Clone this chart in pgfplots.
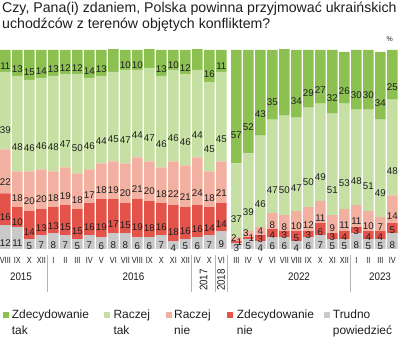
\documentclass[border=0pt]{standalone}
\usepackage{fontspec}
\setmainfont{Liberation Sans}
\usepackage{graphicx}
\usepackage{pgfplots}
\usepackage{pgfplotstable}
\pgfplotsset{compat=1.18}

\definecolor{czt}{HTML}{8CC152}
\definecolor{crt}{HTML}{C6E0A4}
\definecolor{crn}{HTML}{F2B1A0}
\definecolor{czn}{HTML}{E4534A}
\definecolor{ctr}{HTML}{C9C9C9}
\definecolor{sep}{HTML}{B4B4B4}
\definecolor{txt}{HTML}{1E1E1E}

\newcommand\mo[1]{\scalebox{0.82}[1]{#1}}
\newcommand\yr[1]{\scalebox{0.9}[1]{#1}}

\pgfplotstableread{
x tr zn rn rt zt
0 12 16 22 39 11
1 11 10 18 48 13
2 5 14 20 46 15
3 7 13 20 46 14
4 8 13 18 48 13
5 7 15 19 47 12
6 5 15 18 50 12
7 7 16 17 46 14
8 6 19 18 44 13
9 8 17 19 45 12
10 8 15 20 47 10
11 6 19 21 44 10
12 6 18 20 47 10
13 7 16 18 46 13
14 4 18 22 46 10
15 5 16 21 46 12
16 6 16 24 44 11
17 7 14 18 45 16
18 9 14 21 45 11
19.25 3 1 2 37 57
20.25 5 1 3 39 52
21.25 4 3 4 46 43
22.25 6 4 8 47 35
23.25 6 3 8 50 34
24.25 4 5 10 47 34
25.25 6 3 12 50 29
26.25 7 6 11 49 27
27.25 5 3 9 51 32
28.25 5 4 11 53 26
29.25 8 3 11 48 30
30.25 5 4 10 51 30
31.25 5 4 7 49 34
32.25 8 5 14 48 25
}\dat

\pgfplotsset{
  lbl/.style={
    point meta=explicit symbolic,
    nodes near coords={\pgfplotspointmeta},
    nodes near coords align={center},
    every node near coord/.append style={anchor=center, yshift={-\pgfplotspointmeta*0.4975bp},
      font=\fontsize{9.8}{9.8}\selectfont, text=txt, inner sep=0pt},
  }
}

\begin{document}
\begin{tikzpicture}
\path[use as bounding box] (0,-88bp) rectangle (400bp,249bp);
\begin{axis}[
  at={(0,0)}, anchor=south west,
  scale only axis, width=400bp, height=199bp,
  xmin=-0.44583, xmax=32.8875, ymin=0, ymax=100,
  ybar stacked, bar width=10.7bp,
  axis line style={draw=none}, tick style={draw=none},
  ytick=\empty,
  xtick={0,1,2,3,4,5,6,7,8,9,10,11,12,13,14,15,16,17,18,19.25,20.25,21.25,22.25,23.25,24.25,25.25,26.25,27.25,28.25,29.25,30.25,31.25,32.25},
  xticklabels={\mo{VIII},\mo{IX},\mo{X},\mo{XII},\mo{I},\mo{II},\mo{III},\mo{IV},\mo{V},\mo{VI},\mo{VII},\mo{VIII},\mo{IX},\mo{X},\mo{XI},\mo{XII},\mo{IV},\mo{X},\mo{VI},\mo{III},\mo{IV},\mo{V},\mo{VI},\mo{VII},\mo{VIII},\mo{IX},\mo{X},\mo{XI},\mo{XII},\mo{I},\mo{II},\mo{III},\mo{IV}},
  xticklabel style={font=\fontsize{9}{9}\selectfont, text=txt, anchor=base, yshift=-14bp, inner sep=0pt},
]
\addplot[fill=ctr, draw=none, lbl, every node near coord/.append style={yshift={(\pgfplotspointmeta<5)*(-1bp)}}] table[x=x, y=tr, meta=tr] {\dat};
\addplot[fill=czn, draw=none, lbl, every node near coord/.append style={xshift={(\pgfplotspointmeta<2)*3bp}}] table[x=x, y=zn, meta=zn] {\dat};
\addplot[fill=crn, draw=none, lbl, every node near coord/.append style={xshift={(\pgfplotspointmeta<4)*(-2.5bp)}, yshift={(\pgfplotspointmeta<5)*2bp}}] table[x=x, y=rn, meta=rn] {\dat};
\addplot[fill=crt, draw=none, lbl] table[x=x, y=rt, meta=rt] {\dat};
\addplot[fill=czt, draw=none, lbl] table[x=x, y=zt, meta=zt] {\dat};
\end{axis}

% title
\node[anchor=base west, inner sep=0pt, font=\fontsize{14.2}{14.2}\selectfont, text=txt] at (2bp,236.3bp) {Czy, Pana(i) zdaniem, Polska powinna przyjmować ukraińskich};
\node[anchor=base west, inner sep=0pt, font=\fontsize{14.2}{14.2}\selectfont, text=txt] at (2bp,220.7bp) {uchodźców z terenów objętych konfliktem?};
\node[anchor=base, inner sep=0pt, font=\fontsize{7}{7}\selectfont, text=txt] at (389.7bp,207.5bp) {\%};

% separators
\foreach \sx in {47.4,191.4,215.3,227.6,350.4}
  \draw[sep, line width=0.8bp] (\sx bp,-6bp) -- (\sx bp,-43bp);

% years
\node[anchor=base, inner sep=0pt, font=\fontsize{11}{11}\selectfont, text=txt] at (21bp,-31bp) {\yr{2015}};
\node[anchor=base, inner sep=0pt, font=\fontsize{11}{11}\selectfont, text=txt] at (133.5bp,-31bp) {\yr{2016}};
\node[anchor=center, rotate=90, inner sep=0pt, font=\fontsize{11}{11}\selectfont, text=txt] at (203.5bp,-31bp) {\yr{2017}};
\node[anchor=center, rotate=90, inner sep=0pt, font=\fontsize{11}{11}\selectfont, text=txt] at (221bp,-31bp) {\yr{2018}};
\node[anchor=base, inner sep=0pt, font=\fontsize{11}{11}\selectfont, text=txt] at (299bp,-31bp) {\yr{2022}};
\node[anchor=base, inner sep=0pt, font=\fontsize{11}{11}\selectfont, text=txt] at (380bp,-31bp) {\yr{2023}};

% legend
\begin{scope}[every node/.style={anchor=base west, inner sep=0pt, font=\fontsize{12}{12}\selectfont, text=txt}]
\fill[czt] (3.3bp,-69.3bp) rectangle (9.3bp,-63.3bp);
\node at (11.7bp,-69bp) {Zdecydowanie}; \node at (11.7bp,-85bp) {tak};
\fill[crt] (104bp,-69.3bp) rectangle (110bp,-63.3bp);
\node at (113.3bp,-69bp) {Raczej}; \node at (113.3bp,-85bp) {tak};
\fill[crn] (165.7bp,-69.3bp) rectangle (171.7bp,-63.3bp);
\node at (174bp,-69bp) {Raczej}; \node at (174bp,-85bp) {nie};
\fill[czn] (227.3bp,-69.3bp) rectangle (233.3bp,-63.3bp);
\node at (236.7bp,-69bp) {Zdecydowanie}; \node at (236.7bp,-85bp) {nie};
\fill[ctr] (324bp,-69.3bp) rectangle (330bp,-63.3bp);
\node at (332.7bp,-69bp) {Trudno}; \node at (332.7bp,-85bp) {powiedzieć};
\end{scope}
\end{tikzpicture}
\end{document}
